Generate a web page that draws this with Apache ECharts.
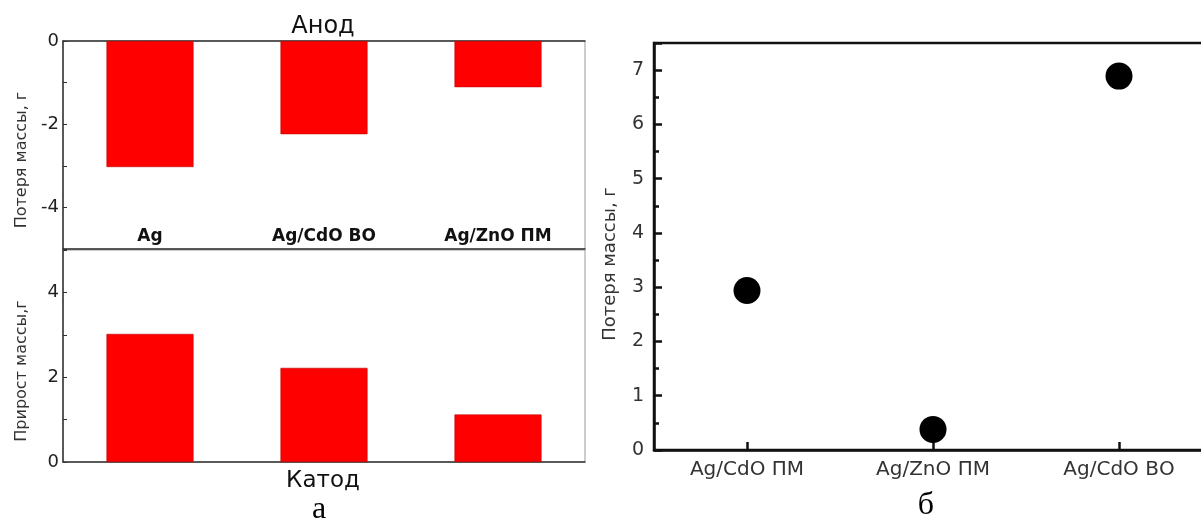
<!DOCTYPE html>
<html>
<head>
<meta charset="utf-8">
<script src="https://cdn.jsdelivr.net/npm/echarts@6/dist/echarts.min.js"></script>
<style>
html,body{margin:0;padding:0;background:#fff;}
#chart{width:1201px;height:524px;}
</style>
</head>
<body>
<div id="chart"></div>
<script>
// ---- data ----
const categoriesA = ['Ag', 'Ag/CdO ВО', 'Ag/ZnO ПМ'];
const anodeLoss = [-3.03, -2.24, -1.11];
const cathodeGain = [3.02, 2.22, 1.12];
const anodeTickLabels = [0, -2, -4];
const cathodeTickLabels = [0, 2, 4];

const categoriesB = ['Ag/CdO ПМ', 'Ag/ZnO ПМ', 'Ag/CdO ВО'];
const massLossB = [2.94, 0.38, 6.89];
const lossTickLabels = [0, 1, 2, 3, 4, 5, 6, 7];

const FONT = 'DejaVu Sans';
const chart = echarts.init(document.getElementById('chart'), null, {renderer: 'canvas'});

const leftAxisLine = {show: true, lineStyle: {color: '#333', width: 1.5}};

const option = {
  animation: false,
  backgroundColor: '#fff',
  grid: [
    {left: 63, top: 41, width: 522, height: 208, outerBoundsMode: 'none', show: true, borderColor: '#999', borderWidth: 1, backgroundColor: 'transparent'},
    {left: 63, top: 250, width: 522, height: 212, outerBoundsMode: 'none', show: true, borderColor: '#999', borderWidth: 1, backgroundColor: 'transparent'},
    {left: 654, top: 43, width: 558, height: 407, outerBoundsMode: 'none', show: true, borderColor: '#111', borderWidth: 2.5, backgroundColor: 'transparent'}
  ],
  xAxis: [
    {gridIndex: 0, type: 'category', position: 'top', data: categoriesA, boundaryGap: true,
     axisLine: leftAxisLine,
     axisTick: {show: true, inside: true, alignWithLabel: true, length: 4, lineStyle: {color: '#333'}},
     axisLabel: {show: false}, splitLine: {show: false}},
    {gridIndex: 0, type: 'category', position: 'bottom', data: categoriesA, boundaryGap: true,
     axisLine: leftAxisLine, axisTick: {show: false},
     axisLabel: {show: true, inside: true, margin: 4, fontFamily: FONT, fontWeight: 'bold', fontSize: 17, color: '#111'},
     splitLine: {show: false}},
    {gridIndex: 1, type: 'category', position: 'bottom', data: categoriesA, boundaryGap: true,
     axisLine: leftAxisLine,
     axisTick: {show: true, inside: true, alignWithLabel: true, length: 4, lineStyle: {color: '#333'}},
     axisLabel: {show: false}, splitLine: {show: false}},
    {gridIndex: 2, type: 'category', position: 'bottom', data: categoriesB, boundaryGap: true,
     axisLine: {show: true, lineStyle: {color: '#111', width: 2.5}},
     axisTick: {show: true, inside: true, alignWithLabel: true, length: 8, lineStyle: {color: '#111', width: 2.5}},
     axisLabel: {show: true, margin: 10, fontFamily: FONT, fontSize: 20, color: '#333'},
     splitLine: {show: false}}
  ],
  yAxis: [
    {gridIndex: 0, type: 'value', min: -5, max: 0, interval: 1,
     axisLine: leftAxisLine,
     axisTick: {show: true, inside: true, length: 4, lineStyle: {color: '#333'}},
     axisLabel: {margin: 4, fontFamily: FONT, fontSize: 18, color: '#222',
       formatter: v => anodeTickLabels.includes(v) ? String(v) : ''},
     splitLine: {show: false}},
    {gridIndex: 1, type: 'value', min: 0, max: 5, interval: 1,
     axisLine: leftAxisLine,
     axisTick: {show: true, inside: true, length: 4, lineStyle: {color: '#333'}},
     axisLabel: {margin: 4, fontFamily: FONT, fontSize: 18, color: '#222',
       formatter: v => cathodeTickLabels.includes(v) ? String(v) : ''},
     splitLine: {show: false}},
    {gridIndex: 2, type: 'value', position: 'left', min: 0, max: 7.5, interval: 1,
     axisLine: {show: true, lineStyle: {color: '#111', width: 2.5}},
     axisTick: {show: true, inside: true, length: 8, lineStyle: {color: '#111', width: 2.5}},
     axisLabel: {margin: 10, fontFamily: FONT, fontSize: 19, color: '#333',
       formatter: v => lossTickLabels.includes(v) ? String(v) : ''},
     splitLine: {show: false}},
    {gridIndex: 2, type: 'value', position: 'left', offset: 0, min: 0, max: 7.5, interval: 0.5,
     axisLine: {show: false},
     axisTick: {show: true, inside: true, length: 5, lineStyle: {color: '#111', width: 2.5}},
     axisLabel: {show: false}, splitLine: {show: false}}
  ],
  series: [
    {type: 'bar', xAxisIndex: 0, yAxisIndex: 0, data: anodeLoss, barWidth: '50%',
     itemStyle: {color: '#ff0000', borderColor: '#c00000', borderWidth: 0.6}},
    {type: 'bar', xAxisIndex: 2, yAxisIndex: 1, data: cathodeGain, barWidth: '50%',
     itemStyle: {color: '#ff0000', borderColor: '#c00000', borderWidth: 0.6}},
    {type: 'scatter', xAxisIndex: 3, yAxisIndex: 2, data: massLossB, symbol: 'circle', symbolSize: 27,
     itemStyle: {color: '#000', opacity: 1}, z: 5}
  ],
  graphic: [
    {type: 'text', x: 323, y: 27, z: 10, style: {text: 'Анод', font: '24px "DejaVu Sans"', fill: '#111', textAlign: 'center', textVerticalAlign: 'middle'}},
    {type: 'text', x: 323, y: 481, z: 10, style: {text: 'Катод', font: '23px "DejaVu Sans"', fill: '#111', textAlign: 'center', textVerticalAlign: 'middle'}},
    {type: 'text', x: 22, y: 160, rotation: Math.PI / 2, z: 10, style: {text: 'Потеря массы, г', font: '16px "DejaVu Sans"', fill: '#333', textAlign: 'center', textVerticalAlign: 'middle'}},
    {type: 'text', x: 22, y: 371, rotation: Math.PI / 2, z: 10, style: {text: 'Прирост массы,г', font: '16px "DejaVu Sans"', fill: '#333', textAlign: 'center', textVerticalAlign: 'middle'}},
    {type: 'text', x: 610, y: 264, rotation: Math.PI / 2, z: 10, style: {text: 'Потеря массы, г', font: '18px "DejaVu Sans"', fill: '#333', textAlign: 'center', textVerticalAlign: 'middle'}},
    {type: 'text', x: 319, y: 510, z: 10, style: {text: 'а', font: '32px "Liberation Serif"', fill: '#000', textAlign: 'center', textVerticalAlign: 'middle'}},
    {type: 'text', x: 926, y: 506, z: 10, style: {text: 'б', font: '32px "Liberation Serif"', fill: '#000', textAlign: 'center', textVerticalAlign: 'middle'}}
  ]
};
chart.setOption(option);
</script>
</body>
</html>
